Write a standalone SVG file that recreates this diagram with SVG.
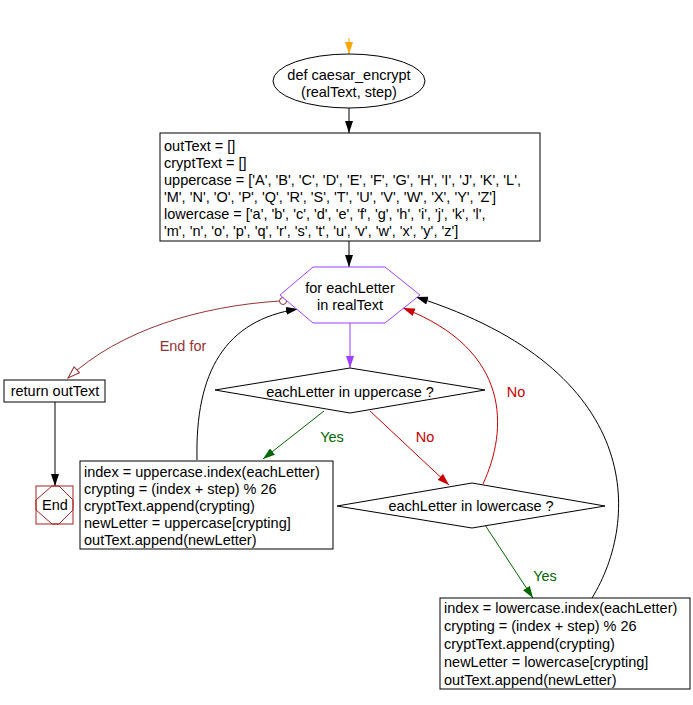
<svg xmlns="http://www.w3.org/2000/svg" width="693" height="705" viewBox="0 0 693 705">
<style>
text{font-family:"Liberation Sans",Arial,sans-serif;font-size:14.5px;fill:#000}
.c{text-anchor:middle}
.sh{fill:#fff;stroke:#000;stroke-width:1}
.ln{fill:none;stroke-width:1}
.k{stroke:#000}
.r{stroke:#cc0000}
.g{stroke:#006600}
.br{stroke:#993333}
.o{stroke:#ffa500}
.p{stroke:#a040ff}
</style>
<defs>
<marker id="ak" viewBox="0 0 12 8" refX="12" refY="4" markerWidth="12" markerHeight="8" markerUnits="userSpaceOnUse" orient="auto"><path d="M0,0 L12,4 L0,8 z" fill="#000"/></marker>
<marker id="ar" viewBox="0 0 12 8" refX="12" refY="4" markerWidth="12" markerHeight="8" markerUnits="userSpaceOnUse" orient="auto"><path d="M0,0 L12,4 L0,8 z" fill="#cc0000"/></marker>
<marker id="ag" viewBox="0 0 12 8" refX="12" refY="4" markerWidth="12" markerHeight="8" markerUnits="userSpaceOnUse" orient="auto"><path d="M0,0 L12,4 L0,8 z" fill="#006600"/></marker>
<marker id="ao" viewBox="0 0 12 8" refX="12" refY="4" markerWidth="12" markerHeight="8" markerUnits="userSpaceOnUse" orient="auto"><path d="M0,0 L12,4 L0,8 z" fill="#ffa500"/></marker>
<marker id="ap" viewBox="0 0 12 8" refX="12" refY="4" markerWidth="12" markerHeight="8" markerUnits="userSpaceOnUse" orient="auto"><path d="M0,0 L12,4 L0,8 z" fill="#a040ff"/></marker>
<marker id="abo" viewBox="0 0 14 10" refX="13" refY="5" markerWidth="14" markerHeight="10" markerUnits="userSpaceOnUse" orient="auto"><path d="M1,1 L13,5 L1,9 z" fill="#fff" stroke="#993333"/></marker>
</defs>

<g id="connectors">
<path class="ln o" d="M349,38 L349,54" marker-end="url(#ao)"/>
<path class="ln k" d="M349,108 L349,133" marker-end="url(#ak)"/>
<path class="ln k" d="M349,241 L349,267" marker-end="url(#ak)"/>
<path class="ln p" d="M350,323 L350,368" marker-end="url(#ap)"/>
<path class="ln g" d="M324,411 L263,459" marker-end="url(#ag)"/>
<path class="ln r" d="M370,411 L449,485" marker-end="url(#ar)"/>
<path class="ln g" d="M485,525 L533,598" marker-end="url(#ag)"/>
<path class="ln k" d="M55,402 L55,486" marker-end="url(#ak)"/>
<path class="ln br" d="M280,301 C200,306 120,330 68,378" marker-end="url(#abo)"/>
<circle cx="283" cy="301" r="3.5" fill="#fff" stroke="#993333"/>
<path class="ln k" d="M197,460 C195,372 225,320 298,309" marker-end="url(#ak)"/>
<path class="ln r" d="M483,484 C508,430 512,350 403,308" marker-end="url(#ar)"/>
<path class="ln k" d="M592,598 C640,520 645,370 416,297" marker-end="url(#ak)"/>
<text x="183" y="351" class="c" style="fill:#993333">End for</text>
<text x="332" y="442" class="c" style="fill:#006600">Yes</text>
<text x="425" y="442" class="c" style="fill:#cc0000">No</text>
<text x="516" y="397" class="c" style="fill:#cc0000">No</text>
<text x="545" y="581" class="c" style="fill:#006600">Yes</text>
</g>

<g id="start">
<ellipse class="sh" cx="349" cy="81" rx="76" ry="27"/>
<text x="349" y="80" class="c">def caesar_encrypt</text>
<text x="349" y="97" class="c">(realText, step)</text>
</g>

<g id="init">
<rect class="sh" x="160" y="133" width="380" height="108"/>
<text x="164" y="151">outText = []</text>
<text x="164" y="168">cryptText = []</text>
<text x="164" y="185">uppercase = ['A', 'B', 'C', 'D', 'E', 'F', 'G', 'H', 'I', 'J', 'K', 'L',</text>
<text x="164" y="202">'M', 'N', 'O', 'P', 'Q', 'R', 'S', 'T', 'U', 'V', 'W', 'X', 'Y', 'Z']</text>
<text x="164" y="219">lowercase = ['a', 'b', 'c', 'd', 'e', 'f', 'g', 'h', 'i', 'j', 'k', 'l',</text>
<text x="164" y="236">'m', 'n', 'o', 'p', 'q', 'r', 's', 't', 'u', 'v', 'w', 'x', 'y', 'z']</text>
</g>

<g id="loop">
<polygon points="280,295 313,267 385,267 420,295 385,323 313,323" fill="#fff" stroke="#a040ff"/>
<text x="350" y="293" class="c">for eachLetter</text>
<text x="350" y="310" class="c">in realText</text>
</g>

<g id="cond-upper">
<polygon class="sh" points="215,390 350,368 485,390 350,413"/>
<text x="350" y="397" class="c">eachLetter in uppercase ?</text>
</g>

<g id="cond-lower">
<polygon class="sh" points="337,506 472,483 605,506 472,528"/>
<text x="471" y="511" class="c">eachLetter in lowercase ?</text>
</g>

<g id="upper-block">
<rect class="sh" x="80" y="461" width="253" height="88"/>
<text x="84" y="477">index = uppercase.index(eachLetter)</text>
<text x="84" y="494">crypting = (index + step) % 26</text>
<text x="84" y="511">cryptText.append(crypting)</text>
<text x="84" y="528">newLetter = uppercase[crypting]</text>
<text x="84" y="545">outText.append(newLetter)</text>
</g>

<g id="lower-block">
<rect class="sh" x="440" y="598" width="250" height="91"/>
<text x="444" y="613">index = lowercase.index(eachLetter)</text>
<text x="444" y="631">crypting = (index + step) % 26</text>
<text x="444" y="649">cryptText.append(crypting)</text>
<text x="444" y="667">newLetter = lowercase[crypting]</text>
<text x="444" y="685">outText.append(newLetter)</text>
</g>

<g id="return">
<rect class="sh" x="4" y="380" width="101" height="22"/>
<text x="55" y="396" class="c">return outText</text>
</g>

<g id="end">
<rect x="36" y="486" width="37" height="38" fill="#fff" stroke="#aa2222"/>
<polygon points="52,486 59,486 73,500 73,510 59,524 52,524 36,510 36,500" fill="none" stroke="#aa2222"/>
<text x="55" y="510" class="c">End</text>
</g>
</svg>
